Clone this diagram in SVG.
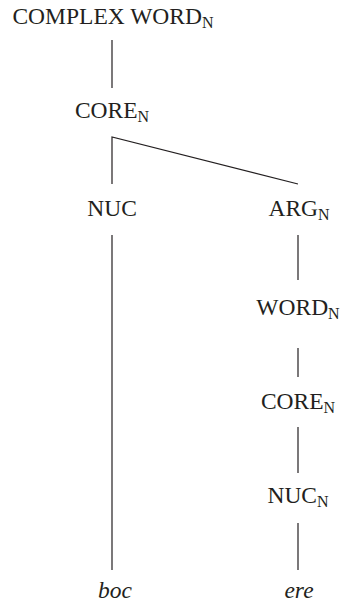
<svg xmlns="http://www.w3.org/2000/svg" width="340" height="603" viewBox="0 0 340 603">
  <style>
    .lbl { font-family: "Liberation Serif", "Times New Roman", serif; font-size: 23.5px; fill: #231f20; text-anchor: middle; }
    .sub { font-size: 16px; }
    .it { font-style: italic; }
    .edge { stroke: #231f20; stroke-width: 1.2; fill: none; }
  </style>
  <rect width="340" height="603" fill="#ffffff"/>

  <!-- tree edges -->
  <g id="connectors">
    <line class="edge" x1="112" y1="40" x2="112" y2="88"/>
    <polyline class="edge" points="112,184 112,137 298,184"/>
    <line class="edge" x1="112" y1="235" x2="112" y2="570"/>
    <line class="edge" x1="298" y1="235" x2="298" y2="280"/>
    <line class="edge" x1="298" y1="348" x2="298" y2="377"/>
    <line class="edge" x1="298" y1="427" x2="298" y2="473"/>
    <line class="edge" x1="298" y1="523" x2="298" y2="570"/>
  </g>

  <!-- nodes -->
  <g id="complex-word">
    <text class="lbl" x="113" y="24">COMPLEX WORD<tspan class="sub" dy="4">N</tspan></text>
  </g>
  <g id="core-top">
    <text class="lbl" x="112" y="118">CORE<tspan class="sub" dy="4">N</tspan></text>
  </g>
  <g id="nuc-left">
    <text class="lbl" x="112" y="216">NUC</text>
  </g>
  <g id="arg">
    <text class="lbl" x="299" y="216">ARG<tspan class="sub" dy="4">N</tspan></text>
  </g>
  <g id="word">
    <text class="lbl" x="298" y="315">WORD<tspan class="sub" dy="4">N</tspan></text>
  </g>
  <g id="core-right">
    <text class="lbl" x="298" y="409">CORE<tspan class="sub" dy="4">N</tspan></text>
  </g>
  <g id="nuc-right">
    <text class="lbl" x="298" y="503">NUC<tspan class="sub" dy="4">N</tspan></text>
  </g>
  <g id="boc">
    <text class="lbl it" x="115" y="598">boc</text>
  </g>
  <g id="ere">
    <text class="lbl it" x="299" y="598">ere</text>
  </g>
</svg>
